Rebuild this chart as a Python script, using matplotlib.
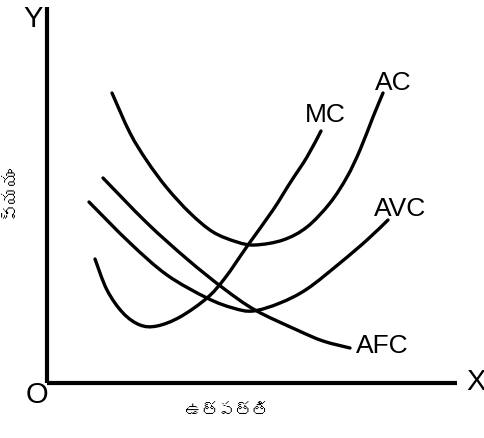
import matplotlib
matplotlib.use("Agg")
import matplotlib.pyplot as plt
from matplotlib import font_manager as fm
from matplotlib.ft2font import FT2Font
from matplotlib.path import Path
from matplotlib.patches import PathPatch

# ---- data (output on x, cost on y; arbitrary units) ----
ac_x = [65, 83, 100, 120, 143, 166, 190, 208, 236, 260, 283, 300, 313, 326, 336]
ac_y = [290, 250, 222, 195, 170, 151, 141, 138, 143, 156, 180, 206, 233, 266, 290]

mc_x = [48, 60, 76, 93, 110, 133, 160, 178, 201, 226, 243, 260, 274]
mc_y = [124, 93, 70, 58, 57, 66, 85, 105, 138, 173, 200, 226, 252]

avc_x = [42, 83, 120, 160, 186, 206, 233, 260, 293, 320, 341]
avc_y = [181, 140, 108, 85, 75, 72, 80, 94, 120, 143, 163]

afc_x = [56, 100, 140, 176, 208, 250, 276, 303]
afc_y = [205, 160, 124, 95, 73, 53, 42, 35]

curve_labels = ["AC", "MC", "AVC", "AFC"]
x_label = "ఉత్పత్తి"
y_label = "వ్యయం"

# ---- find a font with Telugu glyphs, if any ----
telugu_family = None
for f in fm.fontManager.ttflist:
    try:
        if ord("వ") in FT2Font(f.fname).get_charmap():
            telugu_family = f.name
            break
    except Exception:
        pass
tel_fam = [telugu_family, "DejaVu Sans"] if telugu_family else ["DejaVu Sans"]

plt.rcParams["font.family"] = ["Liberation Sans", "DejaVu Sans"]

W, H = 485, 438
fig = plt.figure(figsize=(W / 100, H / 100), dpi=100)
x0, y0, x1, y1 = 47, 383, 457, 7
ax = fig.add_axes([x0 / W, (H - y0) / H, (x1 - x0) / W, (y0 - y1) / H])
ax.set_xlim(0, x1 - x0)
ax.set_ylim(0, y0 - y1)
for s in ["top", "right"]:
    ax.spines[s].set_visible(False)
for s in ["left", "bottom"]:
    ax.spines[s].set_linewidth(3.0)
    ax.spines[s].set_capstyle("butt")
ax.set_xticks([])
ax.set_yticks([])


def smooth_curve(xs, ys):
    """Draw the read points as a smooth (Catmull-Rom -> Bezier) path."""
    pts = list(zip(xs, ys))
    n = len(pts)
    verts = [pts[0]]
    codes = [Path.MOVETO]
    for i in range(n - 1):
        p0 = pts[i - 1] if i > 0 else pts[i]
        p1 = pts[i]
        p2 = pts[i + 1]
        p3 = pts[i + 2] if i + 2 < n else pts[i + 1]
        c1 = (p1[0] + (p2[0] - p0[0]) / 6, p1[1] + (p2[1] - p0[1]) / 6)
        c2 = (p2[0] - (p3[0] - p1[0]) / 6, p2[1] - (p3[1] - p1[1]) / 6)
        verts += [c1, c2, p2]
        codes += [Path.CURVE4] * 3
    patch = PathPatch(Path(verts, codes), facecolor="none", edgecolor="black",
                      lw=2.4, capstyle="round", joinstyle="round", clip_on=False)
    ax.add_patch(patch)


smooth_curve(ac_x, ac_y)
smooth_curve(mc_x, mc_y)
smooth_curve(avc_x, avc_y)
smooth_curve(afc_x, afc_y)

tk = dict(fontsize=19, ha="center", va="center", color="black", clip_on=False)
ax.text(346, 300, curve_labels[0], **tk)
ax.text(278, 268, curve_labels[1], **tk)
ax.text(353, 174, curve_labels[2], **tk)
ax.text(335, 37, curve_labels[3], **tk)

ax.text(-14, 364, "Y", fontsize=21, ha="center", va="center")
ax.text(-10, -12, "O", fontsize=21, ha="center", va="center")
ax.text(429, 1, "X", fontsize=21, ha="center", va="center")

ax.text(180, -29, x_label, family=tel_fam, fontsize=12, fontweight="bold",
        ha="center", va="center")
ax.text(-37, 192, y_label, family=tel_fam, fontsize=13, fontweight="bold",
        rotation=90, ha="center", va="center")

fig.savefig("out.png", dpi=100)
